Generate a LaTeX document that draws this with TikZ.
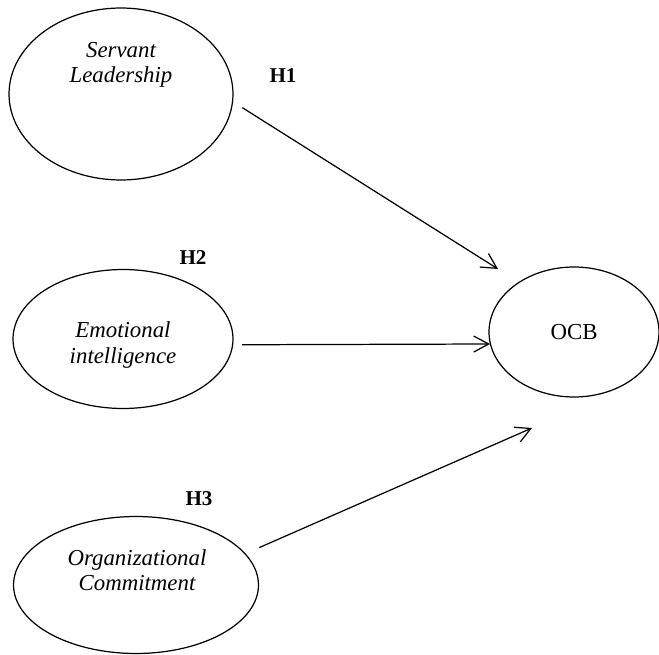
\documentclass[tikz,border=0pt]{standalone}
\usepackage{fontspec}
\setmainfont{Liberation Serif}
\usetikzlibrary{arrows.meta,positioning,calc,shapes.geometric}

\begin{document}
\begin{tikzpicture}[
  x=0.02cm, y=-0.02cm,
  construct/.style={draw, ellipse, inner sep=0pt, line width=0.7pt},
  cname/.style={align=center, font=\fontsize{13}{14.5}\selectfont\itshape},
  hyp/.style={font=\fontsize{12}{14}\selectfont\bfseries},
  arr/.style={-{Straight Barb[length=3mm, width=3.2mm]}, line width=0.7pt}
]
\useasboundingbox (0,0) rectangle (659,655);

\node[construct, minimum width=4.48cm, minimum height=3.44cm] (sl) at (121,94) {};
\node[cname] (sltext) at (121,65) {Servant\\Leadership};
\node[construct, minimum width=4.4cm, minimum height=2.78cm] (ei) at (123,339) {};
\node[cname] (eitext) at (123,345) {Emotional\\intelligence};
\node[construct, minimum width=4.9cm, minimum height=2.74cm] (oc) at (136,585) {};
\node[cname] (octext) at (137,570) {Organizational\\Commitment};
\node[construct, minimum width=3.4cm, minimum height=2.6cm,
      font=\fontsize{13}{14.5}\selectfont] (ocb) at (574,332) {OCB};

\node[hyp] (h1) at (283,76) {H1};
\node[hyp] (h2) at (193,258) {H2};
\node[hyp] (h3) at (199,499) {H3};

% arrow tips stop short of OCB
\coordinate (t1) at ($(ocb.center)+(-76,-63)$);
\coordinate (t2) at ($(ocb.center)+(-84,12)$);
\coordinate (t3) at ($(ocb.center)+(-42,96)$);

\draw[arr, shorten <=0.22cm] (sl.-4) -- (t1);
\draw[arr, shorten <=0.18cm] (ei.-3) -- (t2);
\draw[arr, shorten <=0.3cm] (oc.16) -- (t3);
\end{tikzpicture}
\end{document}
